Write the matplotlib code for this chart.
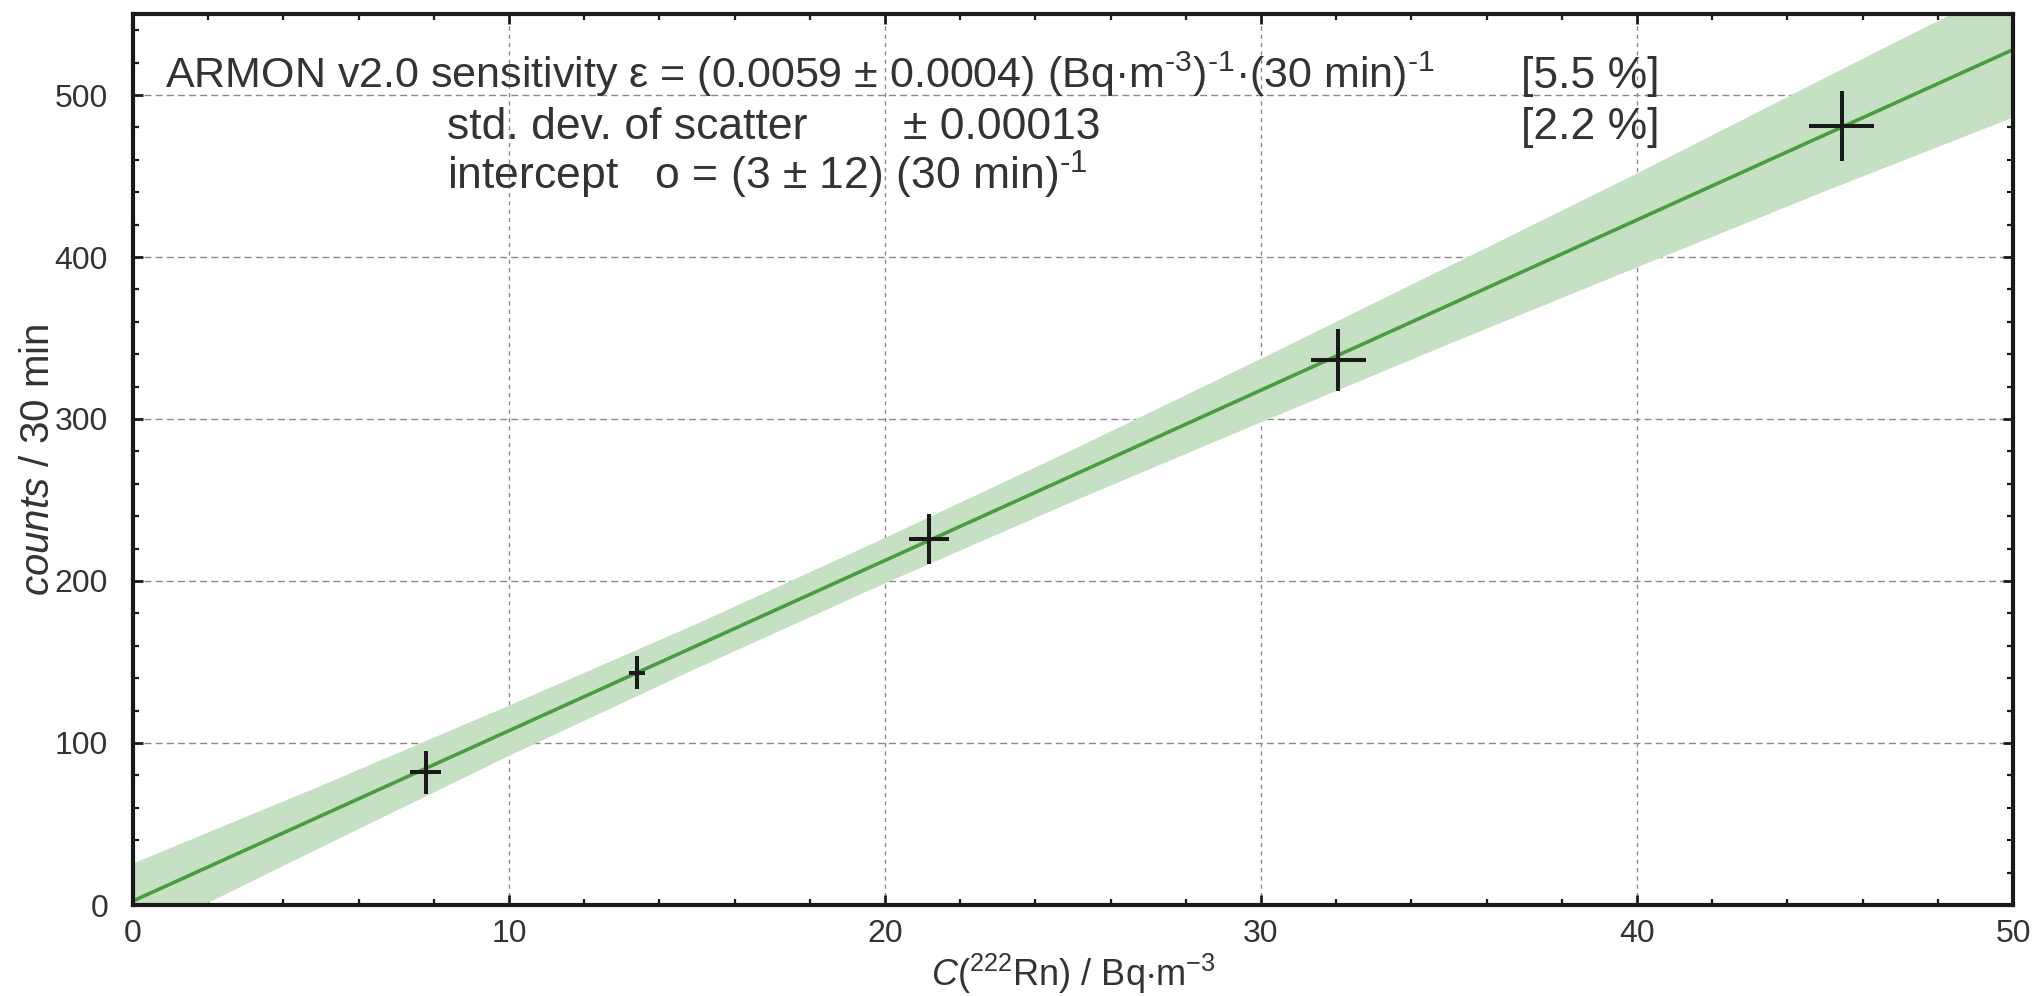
"""Calibration of ARMON v2.0: counts per 30 min vs. radon activity concentration."""

import matplotlib
matplotlib.use("Agg")
import matplotlib.pyplot as plt
from matplotlib.ticker import MultipleLocator

plt.rcParams["font.family"] = ["Liberation Sans", "DejaVu Sans"]
plt.rcParams["mathtext.fontset"] = "custom"
plt.rcParams["mathtext.rm"] = "Liberation Sans"
plt.rcParams["mathtext.it"] = "Liberation Sans:italic"
plt.rcParams["mathtext.default"] = "regular"

# ---------------------------------------------------------------------------
# Data
# ---------------------------------------------------------------------------

conc = [7.78, 13.41, 21.17, 32.06, 45.44]        # Bq m-3
conc_err = [0.40, 0.21, 0.52, 0.73, 0.87]
counts = [81.9, 143.4, 225.9, 336.4, 480.9]      # per 30 min
counts_err = [13.3, 10.1, 15.6, 19.3, 21.4]

# fitted line and its confidence band
fit_x = [0.0, 50.0]
fit_y = [2.5, 528.0]
band_x = [0, 5, 10, 15, 20, 25, 30, 35, 40, 45, 50]
band_lo = [-21.0, 36.0, 92.5, 146.6, 199.0, 249.5, 298.4, 346.7, 394.0, 441.0, 486.5]
band_hi = [26.0, 74.0, 123.5, 174.0, 227.0, 281.5, 337.6, 394.7, 452.0, 511.0, 569.5]

# ---------------------------------------------------------------------------
# Figure
# ---------------------------------------------------------------------------

fig = plt.figure(figsize=(20.38, 9.96), dpi=100)
ax = fig.add_axes([133 / 2038, 1 - 905 / 996, 1880 / 2038, 891 / 996])

ax.fill_between(band_x, band_lo, band_hi, color="#c6e0c3", linewidth=0, zorder=1)
ax.plot(fit_x, fit_y, color="#4a9c42", linewidth=2.6, zorder=2)
ax.errorbar(conc, counts, xerr=conc_err, yerr=counts_err, fmt="none",
            ecolor="#1a1a1a", elinewidth=2.9, capsize=0, zorder=3)

ax.set_xlim(0, 50)
ax.set_ylim(0, 550)
ax.xaxis.set_major_locator(MultipleLocator(10))
ax.xaxis.set_minor_locator(MultipleLocator(2))
ax.yaxis.set_major_locator(MultipleLocator(100))
ax.yaxis.set_minor_locator(MultipleLocator(20))
ax.tick_params(which="both", direction="in", top=True, right=True,
               color="#1a1a1a", labelsize=23, labelcolor="#333333")
ax.tick_params(which="major", length=7, width=2)
ax.tick_params(which="minor", length=4, width=1.6)
ax.tick_params(axis="y", which="major", pad=18)
ax.tick_params(axis="x", which="major", pad=10)
for sp in ax.spines.values():
    sp.set_linewidth(3)
    sp.set_color("#1a1a1a")

ax.xaxis.grid(True, which="major", linestyle=(0, (3, 3)), color="#8a8a8a",
              linewidth=1.0)
ax.yaxis.grid(True, which="major", linestyle=(0, (5, 3)), color="#8a8a8a",
              linewidth=1.0)
ax.set_axisbelow(True)

ax.set_xlabel(r"$\it{C}$($^{222}$Rn) / Bq$\cdot$m$^{-3}$", fontsize=26,
              color="#333333", labelpad=2)
ax.set_ylabel(r"$\it{counts}$ / 30 min", fontsize=29, color="#333333",
              labelpad=-2)


def ax_pos(px, py):
    return (px - 133) / 1880, (905 - py) / 891


txt = dict(transform=ax.transAxes, fontsize=32, color="#333333",
           va="baseline", ha="left")
ax.text(*ax_pos(165, 88),
        r"ARMON v2.0 sensitivity ε = (0.0059 ± 0.0004) (Bq·m$^{\text{-3}}$)$^{\text{-1}}$·(30 min)$^{\text{-1}}$",
        fontsize=31, **{k: v for k, v in txt.items() if k != "fontsize"})
ax.text(*ax_pos(1521, 88), "[5.5 %]", **txt)
ax.text(*ax_pos(447, 139), "std. dev. of scatter", **txt)
ax.text(*ax_pos(903, 139), "± 0.00013", **txt)
ax.text(*ax_pos(1521, 139), "[2.2 %]", **txt)
ax.text(*ax_pos(447, 190), r"intercept   o = (3 ± 12) (30 min)$^{\text{-1}}$", **txt)

fig.savefig("out.png", dpi=100)
